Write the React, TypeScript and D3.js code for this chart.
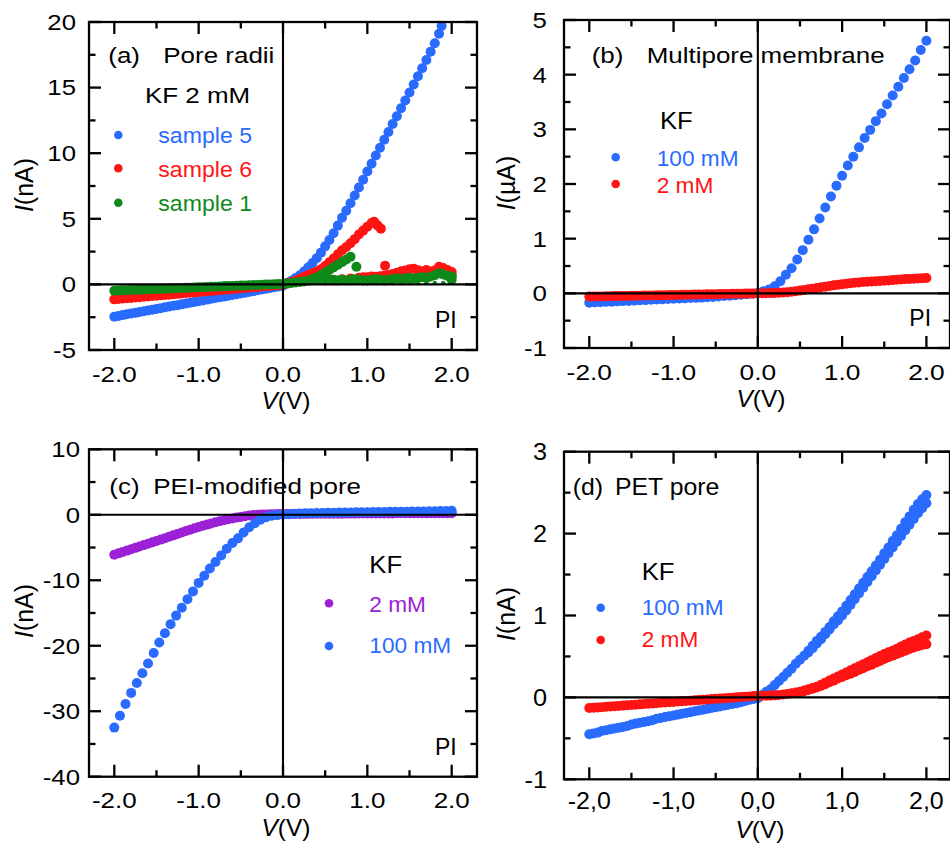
import React from "react";
import * as d3 from "d3";

const FONT = "'Liberation Sans', Arial, Helvetica, sans-serif";
const BLUE = "#2a6bff";
const RED = "#ff1414";
const GREEN = "#0f8a1a";
const PURPLE = "#9b20d6";

// ---------- voltage grids ----------
const V_GRID = [-2, -1.95, -1.9, -1.85, -1.8, -1.75, -1.7, -1.65, -1.6, -1.55, -1.5, -1.45, -1.4, -1.35, -1.3, -1.25, -1.2, -1.15, -1.1, -1.05, -1, -0.95, -0.9, -0.85, -0.8, -0.75, -0.7, -0.65, -0.6, -0.55, -0.5, -0.45, -0.4, -0.35, -0.3, -0.25, -0.2, -0.15, -0.1, -0.05, 0, 0.05, 0.1, 0.15, 0.2, 0.25, 0.3, 0.35, 0.4, 0.45, 0.5, 0.55, 0.6, 0.65, 0.7, 0.75, 0.8, 0.85, 0.9, 0.95, 1, 1.05, 1.1, 1.15, 1.2, 1.25, 1.3, 1.35, 1.4, 1.45, 1.5, 1.55, 1.6, 1.65, 1.7, 1.75, 1.8, 1.85, 1.9, 1.95, 2];
const V_SWEEP = [-2, -1.933, -1.867, -1.8, -1.733, -1.667, -1.6, -1.533, -1.467, -1.4, -1.333, -1.267, -1.2, -1.133, -1.067, -1, -0.933, -0.867, -0.8, -0.733, -0.667, -0.6, -0.533, -0.467, -0.4, -0.333, -0.267, -0.2, -0.133, -0.067, 0, 0.067, 0.133, 0.2, 0.267, 0.333, 0.4, 0.467, 0.533, 0.6, 0.667, 0.733, 0.8, 0.867, 0.933, 1, 1.067, 1.133, 1.2, 1.267, 1.333, 1.4, 1.467, 1.533, 1.6, 1.667, 1.733, 1.8, 1.867, 1.933, 2];

// ---------- panel (a): pore radii, KF 2 mM (nA) ----------
const A_S5: [number, number][] = [
  [-2, -2.46], [-1.95, -2.4], [-1.9, -2.34], [-1.85, -2.28], [-1.8, -2.22], [-1.75, -2.17], [-1.7, -2.11], [-1.65, -2.05], [-1.6, -1.99], [-1.55, -1.93],
  [-1.5, -1.87], [-1.45, -1.81], [-1.4, -1.75], [-1.35, -1.69], [-1.3, -1.63], [-1.25, -1.58], [-1.2, -1.52], [-1.15, -1.46], [-1.1, -1.4], [-1.05, -1.34],
  [-1, -1.28], [-0.95, -1.22], [-0.9, -1.16], [-0.85, -1.1], [-0.8, -1.04], [-0.75, -0.98], [-0.7, -0.93], [-0.65, -0.87], [-0.6, -0.81], [-0.55, -0.75],
  [-0.5, -0.69], [-0.45, -0.63], [-0.4, -0.57], [-0.35, -0.51], [-0.3, -0.45], [-0.25, -0.39], [-0.2, -0.33], [-0.15, -0.27], [-0.1, -0.22], [-0.05, -0.16],
  [0, -0.1], [0.05, 0.12], [0.1, 0.28], [0.15, 0.48], [0.2, 0.7], [0.25, 0.98], [0.3, 1.3], [0.35, 1.63], [0.4, 2.0], [0.45, 2.42],
  [0.5, 2.9], [0.55, 3.38], [0.6, 3.9], [0.65, 4.48], [0.7, 5.08], [0.75, 5.62], [0.8, 6.18], [0.85, 6.78], [0.9, 7.38], [0.95, 7.98],
  [1, 8.6], [1.05, 9.2], [1.1, 9.82], [1.15, 10.42], [1.2, 11.02], [1.25, 11.62], [1.3, 12.22], [1.35, 12.82], [1.4, 13.42], [1.45, 14.02],
  [1.5, 14.62], [1.55, 15.24], [1.6, 15.86], [1.65, 16.48], [1.7, 17.1], [1.75, 17.74], [1.8, 18.38], [1.85, 19.1], [1.88, 19.7],
];
const A_S6: [number, number][] = [
  [-2, -1.14], [-1.95, -1.11], [-1.9, -1.08], [-1.85, -1.06], [-1.8, -1.03], [-1.75, -1.0], [-1.7, -0.97], [-1.65, -0.94], [-1.6, -0.92], [-1.55, -0.89],
  [-1.5, -0.86], [-1.45, -0.83], [-1.4, -0.8], [-1.35, -0.78], [-1.3, -0.75], [-1.25, -0.72], [-1.2, -0.69], [-1.15, -0.66], [-1.1, -0.64], [-1.05, -0.61],
  [-1, -0.58], [-0.95, -0.55], [-0.9, -0.52], [-0.85, -0.5], [-0.8, -0.47], [-0.75, -0.44], [-0.7, -0.41], [-0.65, -0.38], [-0.6, -0.36], [-0.55, -0.33],
  [-0.5, -0.3], [-0.45, -0.27], [-0.4, -0.24], [-0.35, -0.22], [-0.3, -0.19], [-0.25, -0.16], [-0.2, -0.13], [-0.15, -0.1], [-0.1, -0.08], [-0.05, -0.05],
  [0, -0.02], [0.05, 0.08], [0.1, 0.18], [0.15, 0.28], [0.2, 0.42], [0.25, 0.58], [0.3, 0.72], [0.35, 0.85], [0.4, 0.98], [0.45, 1.15],
  [0.5, 1.4], [0.55, 1.68], [0.6, 1.98], [0.65, 2.3], [0.7, 2.6], [0.75, 2.85], [0.8, 3.13], [0.85, 3.45], [0.9, 3.8], [0.95, 4.1],
  [1, 4.4], [1.05, 4.68], [1.08, 4.78], [1.12, 4.5], [1.16, 4.25], [1.21, 1.43],
  [0.5, 0.3], [0.6, 0.35], [0.7, 0.4], [0.8, 0.45], [0.9, 0.5], [0.95, 0.55], [1, 0.55], [1.05, 0.6], [1.1, 0.58], [1.15, 0.62],
  [1.2, 0.66], [1.25, 0.72], [1.3, 0.8], [1.35, 0.88], [1.4, 1.0], [1.45, 1.06], [1.5, 1.15], [1.55, 1.2], [1.6, 1.08], [1.65, 1.0],
  [1.7, 1.1], [1.75, 0.98], [1.8, 1.05], [1.85, 1.35], [1.9, 1.25], [1.95, 1.1], [2, 0.95], [2, 0.7],
];
const A_S1: [number, number][] = [
  [-2, -0.48], [-1.95, -0.47], [-1.9, -0.45], [-1.85, -0.44], [-1.8, -0.43], [-1.75, -0.42], [-1.7, -0.4], [-1.65, -0.39], [-1.6, -0.38], [-1.55, -0.36],
  [-1.5, -0.35], [-1.45, -0.34], [-1.4, -0.32], [-1.35, -0.31], [-1.3, -0.3], [-1.25, -0.29], [-1.2, -0.27], [-1.15, -0.26], [-1.1, -0.25], [-1.05, -0.23],
  [-1, -0.22], [-0.95, -0.21], [-0.9, -0.19], [-0.85, -0.18], [-0.8, -0.17], [-0.75, -0.16], [-0.7, -0.14], [-0.65, -0.13], [-0.6, -0.12], [-0.55, -0.1],
  [-0.5, -0.09], [-0.45, -0.08], [-0.4, -0.06], [-0.35, -0.05], [-0.3, -0.04], [-0.25, -0.03], [-0.2, -0.01], [-0.15, 0.0], [-0.1, 0.01], [-0.05, 0.03],
  [0, 0.04], [0.05, 0.06], [0.1, 0.1], [0.15, 0.14], [0.2, 0.18], [0.25, 0.23], [0.3, 0.3], [0.35, 0.4], [0.4, 0.55], [0.45, 0.7],
  [0.5, 0.9], [0.55, 1.1], [0.6, 1.3], [0.65, 1.5], [0.7, 1.7], [0.75, 1.9], [0.8, 2.1], [0.87, 1.35],
  [0.45, 0.35], [0.5, 0.4], [0.55, 0.38], [0.6, 0.33], [0.65, 0.3], [0.7, 0.35], [0.75, 0.3], [0.8, 0.35], [0.85, 0.4], [0.9, 0.35],
  [0.95, 0.3], [1, 0.3], [1.05, 0.35], [1.1, 0.4], [1.15, 0.35], [1.2, 0.3], [1.25, 0.35], [1.3, 0.4], [1.35, 0.45], [1.4, 0.4],
  [1.45, 0.45], [1.5, 0.5], [1.55, 0.45], [1.6, 0.5], [1.65, 0.55], [1.7, 0.5], [1.75, 0.6], [1.8, 0.7], [1.85, 0.85], [1.9, 0.75],
  [1.95, 0.65], [2, 0.6], [2, 0.35],
];
const A_S1_TRACE: [number, number][] = [
  [-0.7, 0.08], [-0.6, 0.08], [-0.5, 0.09], [-0.4, 0.08], [-0.3, 0.09], [-0.2, 0.09], [-0.1, 0.1], [0.1, 0.1], [0.2, 0.1], [0.3, 0.09],
  [0.4, 0.1], [0.5, 0.1], [0.6, 0.09], [0.7, 0.1], [0.8, 0.1], [0.9, 0.11], [1.0, 0.1], [1.1, 0.1], [1.2, 0.11], [1.3, 0.1],
  [1.4, 0.11], [1.5, 0.1], [1.6, 0.11], [1.7, 0.1], [1.8, 0.11], [1.9, 0.12], [2.0, 0.12],
];

// ---------- panel (b): multipore membrane (µA) ----------
const B_100_I = [
  -0.17, -0.165, -0.161, -0.156, -0.152, -0.147, -0.142, -0.138, -0.133, -0.128, -0.124, -0.119, -0.114, -0.11, -0.105, -0.1,
  -0.096, -0.092, -0.087, -0.083, -0.078, -0.072, -0.066, -0.058, -0.05, -0.042, -0.034, -0.025, -0.017, -0.008, 0,
  0.04, 0.07, 0.13, 0.22, 0.34, 0.46, 0.62, 0.79, 0.98, 1.17, 1.37, 1.57, 1.77, 1.97, 2.15,
  2.34, 2.5, 2.67, 2.84, 2.99, 3.15, 3.29, 3.46, 3.62, 3.78, 3.94, 4.1, 4.26, 4.45, 4.62,
];
const B_2_I = [
  -0.06, -0.059, -0.057, -0.056, -0.054, -0.053, -0.051, -0.05, -0.048, -0.047, -0.045, -0.044, -0.042, -0.041, -0.039, -0.038, -0.036, -0.035, -0.033, -0.032,
  -0.03, -0.029, -0.027, -0.026, -0.024, -0.023, -0.021, -0.02, -0.018, -0.017, -0.015, -0.014, -0.012, -0.011, -0.009, -0.008, -0.006, -0.005, -0.003, -0.002,
  0, 0, 0.002, 0.004, 0.007, 0.01, 0.015, 0.022, 0.03, 0.04, 0.05, 0.062, 0.074, 0.086, 0.098, 0.11, 0.122, 0.134, 0.146, 0.158,
  0.168, 0.176, 0.184, 0.192, 0.2, 0.207, 0.212, 0.217, 0.222, 0.226, 0.23, 0.236, 0.242, 0.248, 0.254, 0.26, 0.264, 0.268, 0.272, 0.276, 0.28,
];

// ---------- panel (c): PEI-modified pore (nA) ----------
const C_2_I = [
  -6.1, -5.89, -5.68, -5.47, -5.26, -5.05, -4.84, -4.63, -4.42, -4.21, -4.0, -3.79, -3.58, -3.36, -3.14, -2.92, -2.7, -2.49, -2.28, -2.07,
  -1.86, -1.68, -1.5, -1.32, -1.15, -0.99, -0.84, -0.69, -0.55, -0.43, -0.32, -0.22, -0.12, -0.05, 0, 0.03, 0.06, 0.08, 0.1, 0.11,
  0.12, 0.12, 0.12, 0.13, 0.13, 0.14, 0.14, 0.15, 0.15, 0.15, 0.16, 0.16, 0.17, 0.17, 0.17, 0.18, 0.18, 0.18, 0.19, 0.19,
  0.19, 0.2, 0.2, 0.2, 0.21, 0.21, 0.21, 0.22, 0.22, 0.22, 0.22, 0.23, 0.23, 0.23, 0.24, 0.24, 0.24, 0.24, 0.25, 0.25, 0.25,
];
const C_100_I = [
  -32.5, -30.7, -28.9, -27.2, -25.7, -24.2, -22.7, -21.1, -19.5, -18.1, -16.7, -15.4, -14.2, -12.9, -11.7, -10.4,
  -9.3, -8.2, -7.2, -6.2, -5.2, -4.3, -3.6, -2.7, -1.9, -1.3, -0.76, -0.36, -0.15, -0.05, 0,
  0.1, 0.15, 0.2, 0.22, 0.25, 0.27, 0.29, 0.3, 0.32, 0.33, 0.35, 0.36, 0.37, 0.38, 0.4,
  0.41, 0.42, 0.43, 0.45, 0.46, 0.47, 0.48, 0.5, 0.51, 0.52, 0.54, 0.55, 0.57, 0.58, 0.6,
];

// ---------- panel (d): PET pore (nA) ----------
const D_100_I = [
  -0.45, -0.44, -0.43, -0.41, -0.4, -0.39, -0.38, -0.37, -0.36, -0.35, -0.33, -0.32, -0.31, -0.3, -0.29, -0.28, -0.26, -0.25, -0.24, -0.23,
  -0.22, -0.21, -0.2, -0.19, -0.18, -0.17, -0.16, -0.15, -0.14, -0.13, -0.12, -0.11, -0.1, -0.09, -0.08, -0.07, -0.06, -0.045, -0.03, -0.02,
  -0.01, 0.03, 0.07, 0.1, 0.15, 0.2, 0.25, 0.3, 0.35, 0.41, 0.46, 0.51, 0.57, 0.63, 0.69, 0.74, 0.8, 0.86, 0.93, 0.99,
  1.05, 1.12, 1.19, 1.26, 1.33, 1.4, 1.47, 1.54, 1.61, 1.68, 1.76, 1.83, 1.91, 1.98, 2.06, 2.14, 2.21, 2.29, 2.36, 2.42, 2.47,
];
const D_100_BACK: [number, number][] = [
  [0.6, 0.55], [0.65, 0.6], [0.7, 0.66], [0.75, 0.71], [0.8, 0.77], [0.85, 0.83], [0.9, 0.89], [0.95, 0.94],
  [1, 1.0], [1.05, 1.06], [1.1, 1.13], [1.15, 1.2], [1.2, 1.27], [1.25, 1.34], [1.3, 1.41], [1.35, 1.48], [1.4, 1.55], [1.45, 1.62],
  [1.5, 1.69], [1.55, 1.76], [1.6, 1.83], [1.65, 1.9], [1.7, 1.97], [1.75, 2.04], [1.8, 2.11], [1.85, 2.18], [1.9, 2.25], [1.95, 2.31], [2, 2.37],
];
const D_2_I = [
  -0.13, -0.126, -0.123, -0.119, -0.115, -0.111, -0.108, -0.104, -0.1, -0.096, -0.093, -0.089, -0.085, -0.081, -0.078, -0.074, -0.07, -0.066, -0.063, -0.059,
  -0.055, -0.051, -0.048, -0.044, -0.04, -0.036, -0.033, -0.029, -0.025, -0.021, -0.018, -0.014, -0.01, -0.006, -0.003, 0.001, 0.005, 0.009, 0.012, 0.016,
  0.02, 0.02, 0.02, 0.022, 0.025, 0.03, 0.035, 0.042, 0.05, 0.06, 0.07, 0.085, 0.1, 0.115, 0.13, 0.155, 0.18, 0.205, 0.23, 0.255,
  0.28, 0.305, 0.33, 0.355, 0.38, 0.405, 0.43, 0.455, 0.48, 0.505, 0.53, 0.55, 0.57, 0.595, 0.62, 0.645, 0.67, 0.69, 0.71, 0.735, 0.755,
];
const D_2_BACK: [number, number][] = [
  [0.5, 0.06], [0.55, 0.075], [0.6, 0.09], [0.65, 0.105], [0.7, 0.12], [0.75, 0.14], [0.8, 0.16], [0.85, 0.185], [0.9, 0.205], [0.95, 0.23],
  [1, 0.25], [1.05, 0.27], [1.1, 0.29], [1.15, 0.31], [1.2, 0.335], [1.25, 0.355], [1.3, 0.38], [1.35, 0.4], [1.4, 0.425], [1.45, 0.445],
  [1.5, 0.47], [1.55, 0.49], [1.6, 0.51], [1.65, 0.53], [1.7, 0.55], [1.75, 0.57], [1.8, 0.59], [1.85, 0.61], [1.9, 0.625], [1.95, 0.64], [2, 0.65],
];

// ---------- ticks ----------
const X_MAJOR = [-2, -1, 0, 1, 2];
const X_MINOR = [-1.5, -0.5, 0.5, 1.5];
const A_Y_MAJOR = [-5, 0, 5, 10, 15, 20];
const A_Y_MINOR = [-2.5, 2.5, 7.5, 12.5, 17.5];
const B_Y_MAJOR = [-1, 0, 1, 2, 3, 4, 5];
const B_Y_MINOR = [-0.5, 0.5, 1.5, 2.5, 3.5, 4.5];
const C_Y_MAJOR = [-40, -30, -20, -10, 0, 10];
const C_Y_MINOR = [-35, -25, -15, -5, 5];
const D_Y_MAJOR = [-1, 0, 1, 2, 3];
const D_Y_MINOR = [-0.5, 0.5, 1.5, 2.5];

const zip = (vs: number[], is: number[]): [number, number][] => is.map((v, i) => [vs[i], v]);

type Txt = { t: string; x: number; y: number; c?: string; fs?: number; sx?: number };
type Ser = { pts: [number, number][]; color: string; r: number };
type Cfg = {
  left: number; right: number; top: number; bottom: number;
  xDomain: [number, number]; yDomain: [number, number];
  yMajor: number[]; yMinor: number[];
  xFmt: (v: number) => string;
  tickFs: number; tickSx: number; xTickFs: number; xTickSx: number;
  yLabelRight: number; xLabelBase: number;
  xTitle: { x: number; y: number }; yTitle: { x: number; y: number; unit: string };
  series: Ser[]; texts: Txt[]; dots: { x: number; y: number; c: string }[];
};

const dotFmt = (v: number) => v.toFixed(1);
const commaFmt = (v: number) => v.toFixed(1).replace(".", ",");

function STxt({ t, x, y, c = "#000", fs = 22, sx = 1.18, anchor = "start" }: Txt & { anchor?: string }) {
  return (
    <text transform={`translate(${x},${y}) scale(${sx},1)`} fill={c} fontSize={fs} fontFamily={FONT} textAnchor={anchor}>
      {t}
    </text>
  );
}

function Panel({ cfg }: { cfg: Cfg }) {
  const x = d3.scaleLinear().domain(cfg.xDomain).range([cfg.left, cfg.right]);
  const y = d3.scaleLinear().domain(cfg.yDomain).range([cfg.bottom, cfg.top]);
  const sw = 2.3;
  const MJ = 12, MN = 6.5;
  return (
    <g>
      {cfg.series.map((s, si) => (
        <g key={si} fill={s.color}>
          {s.pts.map((p, i) => (
            <circle key={i} cx={x(p[0])} cy={y(p[1])} r={s.r} />
          ))}
        </g>
      ))}
      {/* zero lines */}
      <line x1={x(0)} x2={x(0)} y1={cfg.top} y2={cfg.bottom} stroke="#000" strokeWidth={2.1} />
      <line x1={cfg.left} x2={cfg.right} y1={y(0)} y2={y(0)} stroke="#000" strokeWidth={2.1} />
      {/* frame */}
      <rect x={cfg.left} y={cfg.top} width={cfg.right - cfg.left} height={cfg.bottom - cfg.top} fill="none" stroke="#000" strokeWidth={sw} />
      {/* x ticks */}
      {[...X_MAJOR.map((v) => [v, MJ]), ...X_MINOR.map((v) => [v, MN])].map(([v, L], i) => (
        <g key={"xt" + i} stroke="#000" strokeWidth={sw}>
          <line x1={x(v)} x2={x(v)} y1={cfg.bottom} y2={cfg.bottom - L} />
          <line x1={x(v)} x2={x(v)} y1={cfg.top} y2={cfg.top + L} />
        </g>
      ))}
      {[...cfg.yMajor.map((v) => [v, MJ]), ...cfg.yMinor.map((v) => [v, MN])].map(([v, L], i) => (
        <g key={"yt" + i} stroke="#000" strokeWidth={sw}>
          <line x1={cfg.left} x2={cfg.left + L} y1={y(v)} y2={y(v)} />
          <line x1={cfg.right} x2={cfg.right - L} y1={y(v)} y2={y(v)} />
        </g>
      ))}
      {X_MAJOR.map((v) => (
        <STxt key={"xl" + v} t={cfg.xFmt(v)} x={x(v)} y={cfg.xLabelBase} fs={cfg.xTickFs} sx={cfg.xTickSx} anchor="middle" />
      ))}
      {cfg.yMajor.map((v) => (
        <STxt key={"yl" + v} t={String(v)} x={cfg.yLabelRight} y={y(v) + cfg.tickFs * 0.358} fs={cfg.tickFs} sx={cfg.tickSx} anchor="end" />
      ))}
      <text x={cfg.xTitle.x} y={cfg.xTitle.y} fontSize={24.5} fontFamily={FONT} textAnchor="middle">
        <tspan fontStyle="italic">V</tspan>(V)
      </text>
      <text transform={`translate(${cfg.yTitle.x},${cfg.yTitle.y}) rotate(-90)`} fontSize={25} fontFamily={FONT} textAnchor="middle">
        <tspan fontStyle="italic">I</tspan>({cfg.yTitle.unit})
      </text>
      {cfg.texts.map((t, i) => (
        <STxt key={"t" + i} {...t} />
      ))}
      {cfg.dots.map((d, i) => (
        <circle key={"d" + i} cx={d.x} cy={d.y} r={4.3} fill={d.c} />
      ))}
    </g>
  );
}

const R = 5;

const PANELS: Cfg[] = [
  {
    left: 89, right: 477, top: 22, bottom: 350, xDomain: [-2.3, 2.3], yDomain: [-5, 20],
    yMajor: A_Y_MAJOR, yMinor: A_Y_MINOR, xFmt: dotFmt,
    tickFs: 22, tickSx: 1.17, xTickFs: 22, xTickSx: 1.18, yLabelRight: 76, xLabelBase: 382,
    xTitle: { x: 286, y: 408.5 }, yTitle: { x: 33, y: 185, unit: "nA" },
    series: [
      { pts: A_S5, color: BLUE, r: R },
      { pts: A_S6, color: RED, r: R },
      { pts: A_S1, color: GREEN, r: R },
      { pts: A_S1_TRACE, color: GREEN, r: 2.2 },
    ],
    texts: [
      { t: "(a)", x: 108.3, y: 63.3 },
      { t: "Pore radii", x: 163.3, y: 63.3 },
      { t: "KF 2 mM", x: 145, y: 103.3 },
      { t: "sample 5", x: 158.3, y: 142.7, c: BLUE, sx: 1.05 },
      { t: "sample 6", x: 158.3, y: 176.7, c: RED, sx: 1.05 },
      { t: "sample 1", x: 158.3, y: 210.7, c: GREEN, sx: 1.05 },
      { t: "PI", x: 435, y: 328, fs: 23, sx: 1.0 },
    ],
    dots: [
      { x: 118.3, y: 135, c: BLUE },
      { x: 118.3, y: 168.3, c: RED },
      { x: 118.3, y: 202.7, c: GREEN },
    ],
  },
  {
    left: 564, right: 950, top: 20, bottom: 348, xDomain: [-2.3, 2.28], yDomain: [-1, 5],
    yMajor: B_Y_MAJOR, yMinor: B_Y_MINOR, xFmt: dotFmt,
    tickFs: 22.5, tickSx: 1.15, xTickFs: 22.5, xTickSx: 1.17, yLabelRight: 547, xLabelBase: 379.5,
    xTitle: { x: 761, y: 406.5 }, yTitle: { x: 515, y: 183, unit: "\u00b5A" },
    series: [
      { pts: zip(V_SWEEP, B_100_I), color: BLUE, r: R },
      { pts: zip(V_GRID, B_2_I), color: RED, r: R },
    ],
    texts: [
      { t: "(b)", x: 591.7, y: 63.3 },
      { t: "Multipore membrane", x: 646.7, y: 63.3 },
      { t: "KF", x: 660, y: 129, fs: 24, sx: 1.07 },
      { t: "100 mM", x: 656.7, y: 165.7, c: BLUE, sx: 1.03 },
      { t: "2 mM", x: 656.7, y: 192.7, c: RED, sx: 1.03 },
      { t: "PI", x: 909.3, y: 326, fs: 23, sx: 1.0 },
    ],
    dots: [
      { x: 615.7, y: 157.3, c: BLUE },
      { x: 615.7, y: 184, c: RED },
    ],
  },
  {
    left: 89, right: 477, top: 449.3, bottom: 776.7, xDomain: [-2.3, 2.3], yDomain: [-40, 10],
    yMajor: C_Y_MAJOR, yMinor: C_Y_MINOR, xFmt: dotFmt,
    tickFs: 22, tickSx: 1.17, xTickFs: 22, xTickSx: 1.18, yLabelRight: 80, xLabelBase: 807.5,
    xTitle: { x: 286, y: 835.5 }, yTitle: { x: 33, y: 611, unit: "nA" },
    series: [
      { pts: zip(V_GRID, C_2_I), color: PURPLE, r: R },
      { pts: zip(V_SWEEP, C_100_I), color: BLUE, r: R },
    ],
    texts: [
      { t: "(c)", x: 109.3, y: 494 },
      { t: "PEI-modified pore", x: 153.3, y: 494 },
      { t: "KF", x: 369.3, y: 573.3, fs: 24, sx: 1.07 },
      { t: "2 mM", x: 369.3, y: 611.7, c: PURPLE, sx: 1.03 },
      { t: "100 mM", x: 369.3, y: 653.3, c: BLUE, sx: 1.03 },
      { t: "PI", x: 435, y: 755, fs: 23, sx: 1.0 },
    ],
    dots: [
      { x: 329, y: 603.3, c: PURPLE },
      { x: 329, y: 646, c: BLUE },
    ],
  },
  {
    left: 564, right: 950, top: 451.7, bottom: 779.3, xDomain: [-2.3, 2.28], yDomain: [-1, 3],
    yMajor: D_Y_MAJOR, yMinor: D_Y_MINOR, xFmt: commaFmt,
    tickFs: 23, tickSx: 1.1, xTickFs: 24, xTickSx: 1.04, yLabelRight: 547, xLabelBase: 809,
    xTitle: { x: 760, y: 837.5 }, yTitle: { x: 515, y: 614, unit: "nA" },
    series: [
      { pts: zip(V_GRID, D_100_I), color: BLUE, r: R },
      { pts: D_100_BACK, color: BLUE, r: R },
      { pts: zip(V_GRID, D_2_I), color: RED, r: R },
      { pts: D_2_BACK, color: RED, r: R },
    ],
    texts: [
      { t: "(d)", x: 572.7, y: 495, fs: 23, sx: 1.08 },
      { t: "PET pore", x: 615, y: 495, fs: 23, sx: 1.08 },
      { t: "KF", x: 641.7, y: 580, fs: 24, sx: 1.07 },
      { t: "100 mM", x: 641.7, y: 615, c: BLUE, sx: 1.03 },
      { t: "2 mM", x: 641.7, y: 647.3, c: RED, sx: 1.03 },
    ],
    dots: [
      { x: 600.7, y: 607.7, c: BLUE },
      { x: 600.7, y: 640, c: RED },
    ],
  },
];

export default function App() {
  return (
    <svg width={950} height={844} style={{ position: "absolute", left: 0, top: 0, background: "#fff" }}>
      <rect width={950} height={844} fill="#fff" />
      {PANELS.map((p, i) => (
        <Panel key={i} cfg={p} />
      ))}
    </svg>
  );
}
